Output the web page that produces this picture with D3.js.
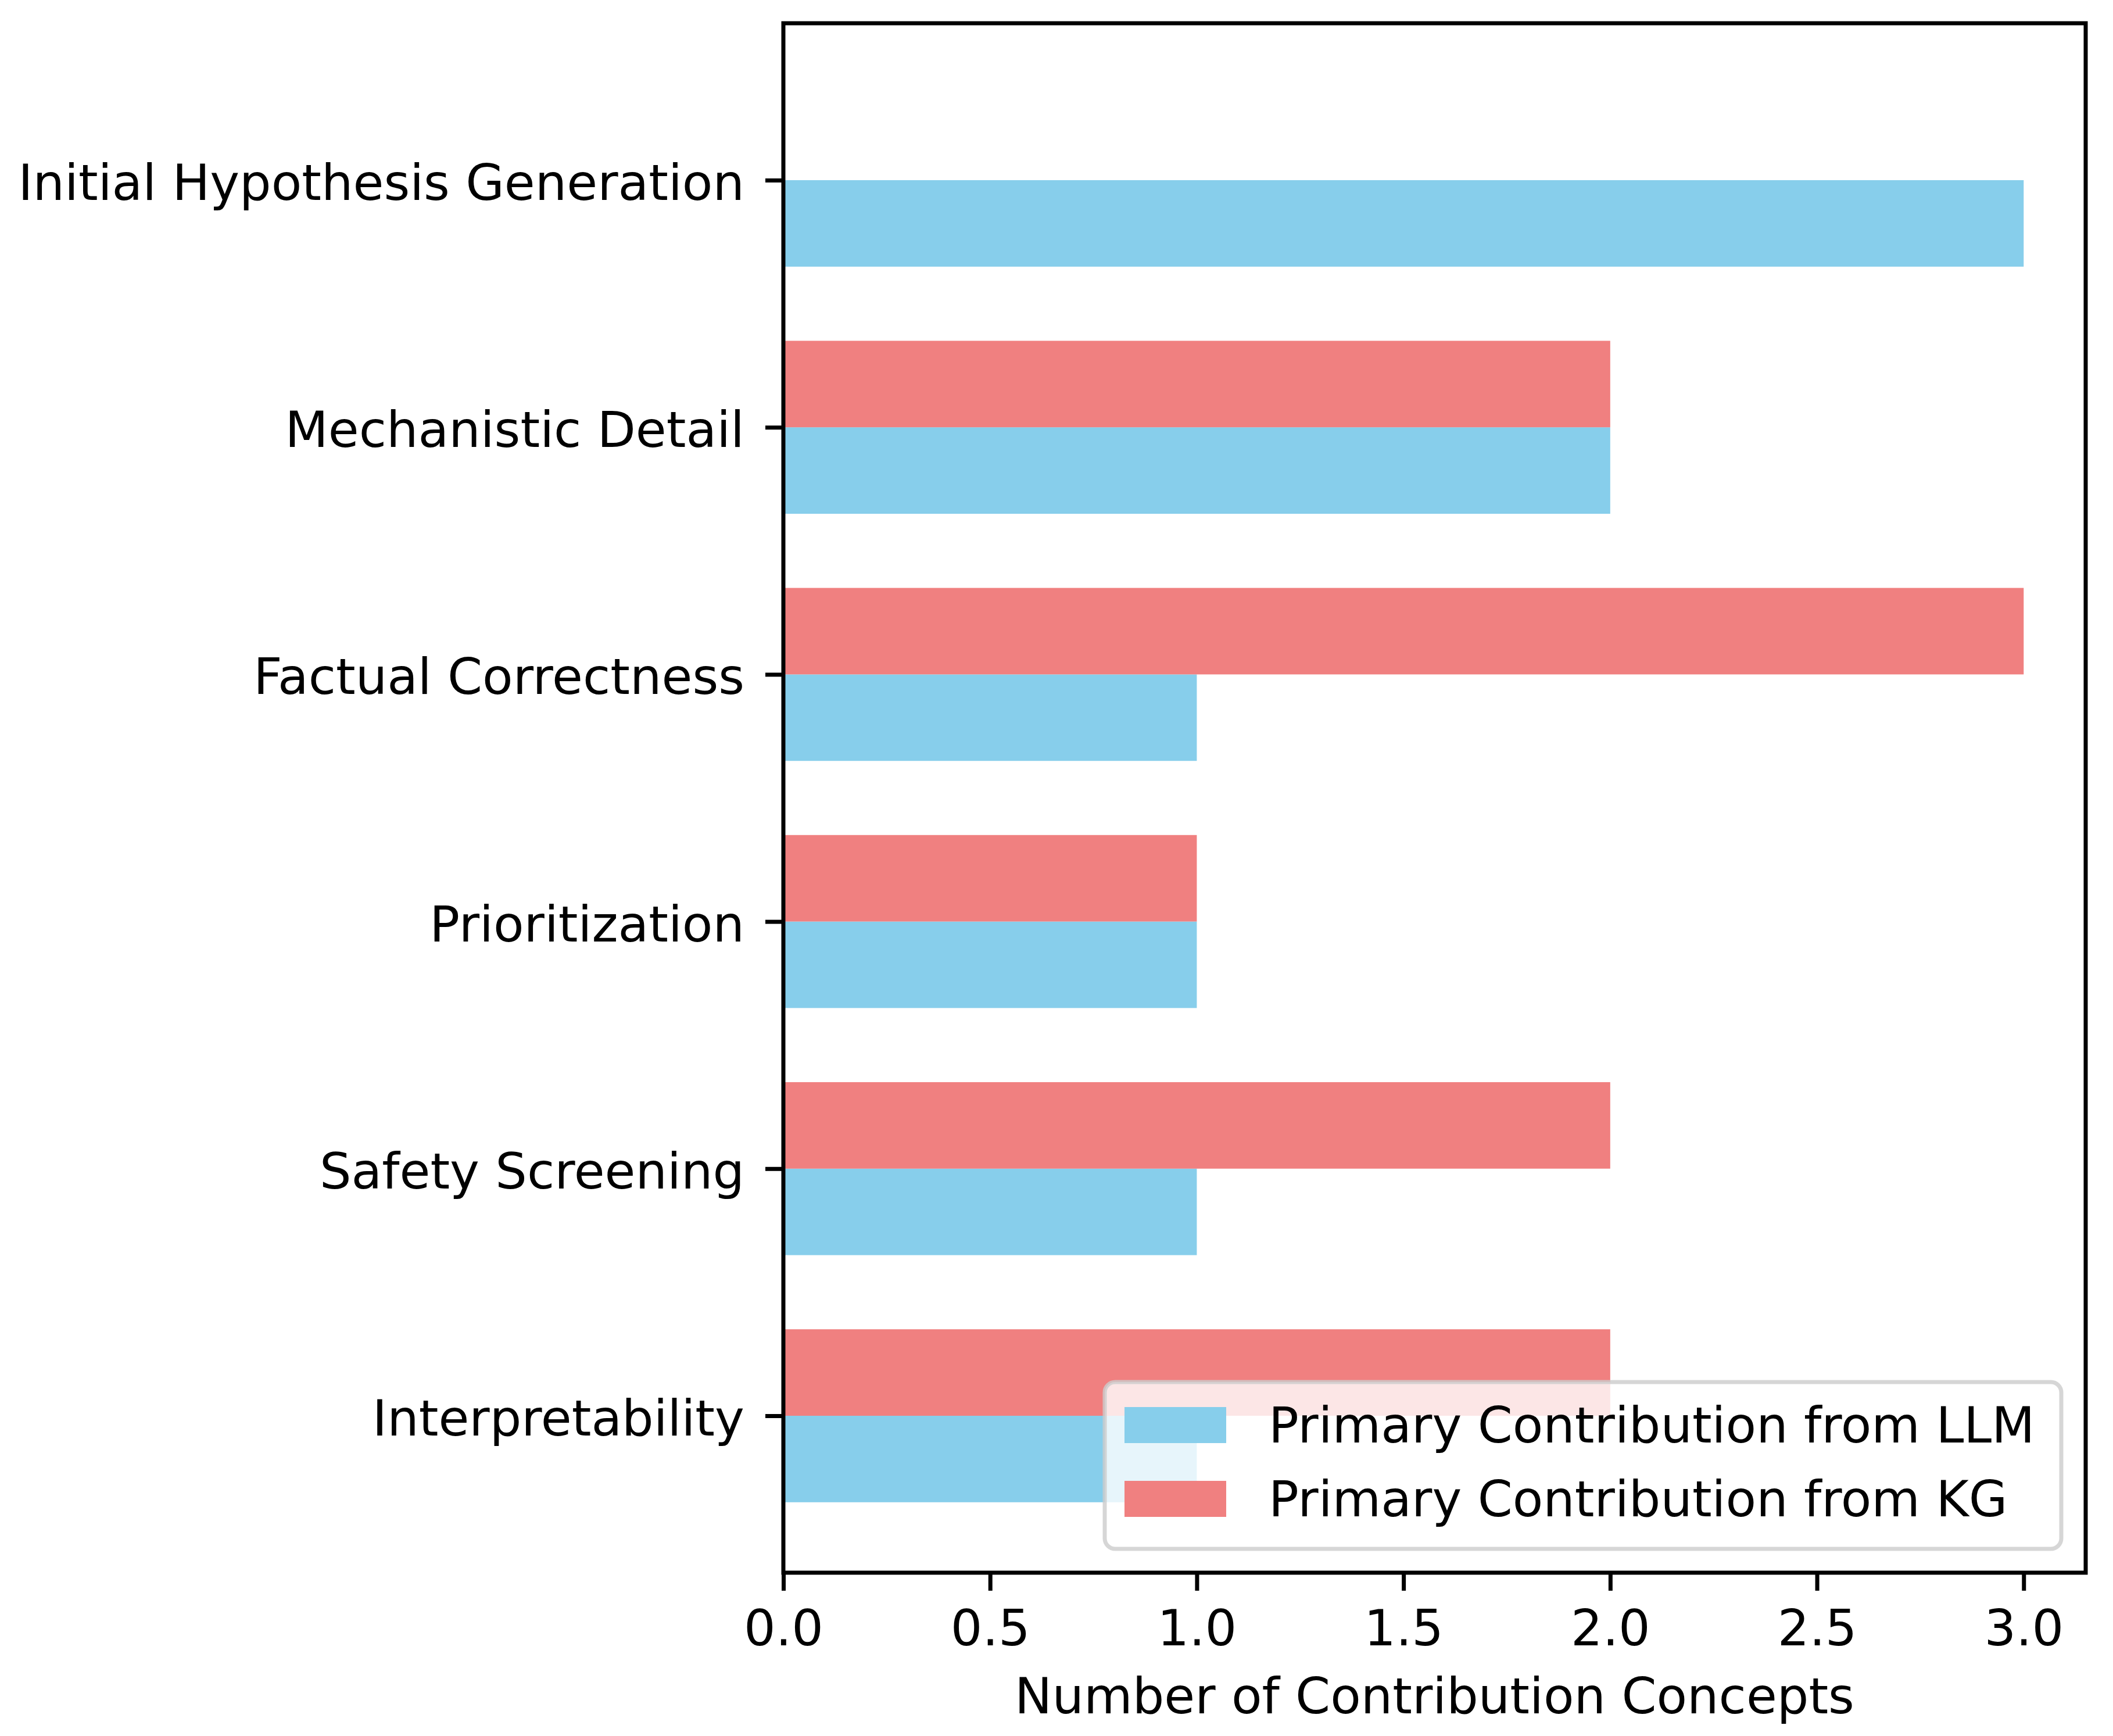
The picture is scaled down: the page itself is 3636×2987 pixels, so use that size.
<html>
<head>
<title>Contribution concepts</title>
<style>
  body { margin: 0; background: #fff; }
  svg text { font-family: "DejaVu Sans", sans-serif; }
</style>
</head>
<body>
<svg></svg>
<script src="https://d3js.org/d3.v7.min.js"></script>
<script>
// data
var categories = ["Initial Hypothesis Generation", "Mechanistic Detail", "Factual Correctness",
                  "Prioritization", "Safety Screening", "Interpretability"];
var llmValues = [3, 2, 1, 1, 1, 1];
var kgValues = [0, 2, 3, 1, 2, 2];
var xTicks = [0, 0.5, 1, 1.5, 2, 2.5, 3];
var seriesNames = ["Primary Contribution from LLM", "Primary Contribution from KG"];
var seriesColors = ["#87CEEB", "#F08080"];

var width = 3636, height = 2987;
var fs = 86;
var lw = 7;
var barH = 0.35;

var svg = d3.select("svg").attr("width", width).attr("height", height);

// axes box (window.top is reserved, so use a plain object)
var box = {left: 1348, right: 3589, top: 40, bottom: 2706};

var x = d3.scaleLinear().domain([0, 3.15]).range([box.left, box.right]);
// inverted category axis, same margins as matplotlib (5% of data span)
var y = d3.scaleLinear().domain([-0.635, categories.length - 1 + 0.635]).range([box.top, box.bottom]);

// bars: LLM below tick, KG above tick
var g = svg.append("g");
g.selectAll("rect.llm")
  .data(llmValues)
  .enter().append("rect")
  .attr("class", "llm")
  .attr("x", x(0))
  .attr("y", function(d, i) { return y(i); })
  .attr("width", function(d) { return x(d) - x(0); })
  .attr("height", function(d, i) { return y(i + barH) - y(i); })
  .attr("fill", seriesColors[0]);

g.selectAll("rect.kg")
  .data(kgValues)
  .enter().append("rect")
  .attr("class", "kg")
  .attr("x", x(0))
  .attr("y", function(d, i) { return y(i - barH); })
  .attr("width", function(d) { return x(d) - x(0); })
  .attr("height", function(d, i) { return y(i) - y(i - barH); })
  .attr("fill", seriesColors[1]);

// x axis
var xAxis = svg.append("g")
  .attr("transform", "translate(0," + box.bottom + ")")
  .call(d3.axisBottom(x).tickValues(xTicks).tickFormat(d3.format(".1f")).tickSize(31).tickPadding(33));
xAxis.select(".domain").remove();
xAxis.selectAll("line").attr("stroke", "#000").attr("stroke-width", lw);
xAxis.selectAll("text").attr("font-size", fs).attr("fill", "#000");

// y axis
var yAxis = svg.append("g")
  .attr("transform", "translate(" + box.left + ",0)")
  .call(d3.axisLeft(y).tickValues(d3.range(categories.length))
    .tickFormat(function(i) { return categories[i]; }).tickSize(31).tickPadding(36));
yAxis.select(".domain").remove();
yAxis.selectAll("line").attr("stroke", "#000").attr("stroke-width", lw);
yAxis.selectAll("text").attr("font-size", fs).attr("fill", "#000").attr("dy", "0.39em");

// frame
svg.append("rect")
  .attr("x", box.left).attr("y", box.top)
  .attr("width", box.right - box.left).attr("height", box.bottom - box.top)
  .attr("fill", "none").attr("stroke", "#000").attr("stroke-width", lw);

// x label
svg.append("text")
  .attr("x", (box.left + box.right) / 2)
  .attr("y", 2948)
  .attr("text-anchor", "middle")
  .attr("font-size", fs)
  .text("Number of Contribution Concepts");

// legend (lower right)
var legW = 1646, legH = 287;
var legX = box.right - 42 - legW, legY = box.bottom - 41 - legH;
var leg = svg.append("g").attr("transform", "translate(" + legX + "," + legY + ")");
leg.append("rect")
  .attr("width", legW).attr("height", legH)
  .attr("rx", 18).attr("ry", 18)
  .attr("fill", "#fff").attr("fill-opacity", 0.8)
  .attr("stroke", "#cccccc").attr("stroke-opacity", 0.8).attr("stroke-width", lw);

seriesNames.forEach(function(name, k) {
  var rowY = 43 + k * 127;
  leg.append("rect")
    .attr("x", 34).attr("y", rowY)
    .attr("width", 175).attr("height", 62)
    .attr("fill", seriesColors[k]);
  leg.append("text")
    .attr("x", 282).attr("y", rowY + 61)
    .attr("font-size", fs)
    .text(name);
});
</script>
</body>
</html>
